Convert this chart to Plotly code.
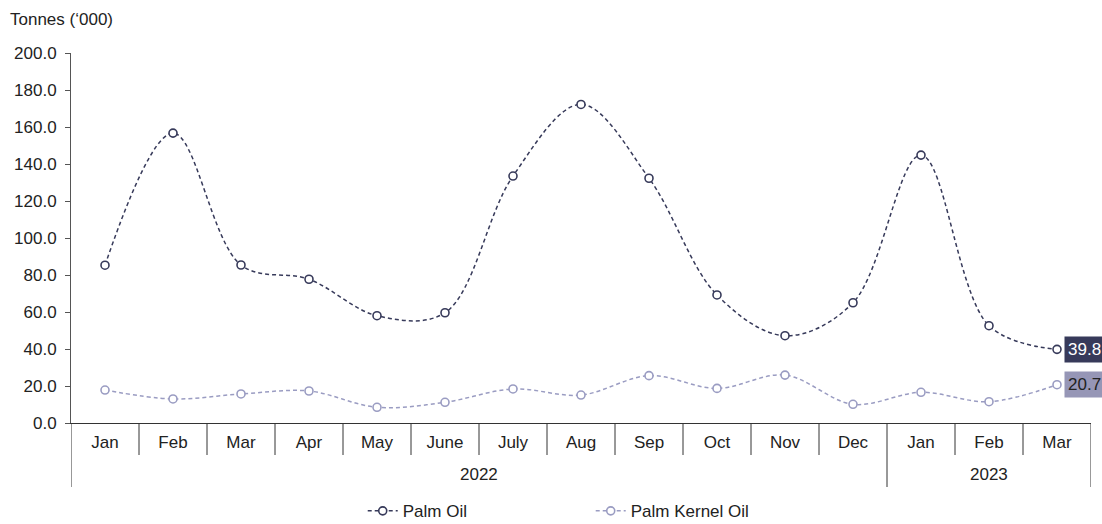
import plotly.graph_objects as go

# Monthly export volumes, tonnes ('000)
years = ["2022"] * 12 + ["2023"] * 3
months = ["Jan", "Feb", "Mar", "Apr", "May", "June", "July", "Aug", "Sep",
          "Oct", "Nov", "Dec", "Jan", "Feb", "Mar"]
palm_oil = [85.3, 156.7, 85.4, 77.7, 58.0, 59.6, 133.5, 172.2, 132.3,
            69.2, 47.2, 65.0, 144.8, 52.6, 39.8]
palm_kernel_oil = [17.8, 13.0, 15.7, 17.3, 8.5, 11.2, 18.4, 15.1, 25.6,
                   18.7, 25.9, 10.1, 16.6, 11.5, 20.7]

PO_COLOR = "#373a5a"
PKO_COLOR = "#9a9cc2"
FONT = "Liberation Sans, Arial, sans-serif"
TXT = "#222222"
AXIS = "#333333"
FS = 17

idx = list(range(len(months)))
PLOT_H = 370  # plot-area height in px, used to turn pixel offsets into paper units

fig = go.Figure()
fig.add_trace(go.Scatter(
    x=idx, y=palm_oil, name="Palm Oil", mode="lines+markers",
    line=dict(color=PO_COLOR, width=1.5, dash="4px,3px", shape="spline", smoothing=1.0),
    marker=dict(symbol="circle", size=8, color="white",
                line=dict(color=PO_COLOR, width=1.6)),
))
fig.add_trace(go.Scatter(
    x=idx, y=palm_kernel_oil, name="Palm Kernel Oil", mode="lines+markers",
    line=dict(color=PKO_COLOR, width=1.5, dash="4px,3px", shape="spline", smoothing=1.0),
    marker=dict(symbol="circle", size=8, color="white",
                line=dict(color=PKO_COLOR, width=1.6)),
))

# Category table under the x axis: month separators and year group borders
year_groups = []
for i, yr in enumerate(years):
    if not year_groups or year_groups[-1][0] != yr:
        year_groups.append([yr, i, i])
    else:
        year_groups[-1][2] = i

group_edges = {-0.5} | {g[2] + 0.5 for g in year_groups}
for b in [i - 0.5 for i in range(len(months) + 1)]:
    depth = 64 if b in group_edges else 32
    fig.add_shape(type="line", xref="x", yref="paper", x0=b, x1=b,
                  y0=0, y1=-depth / PLOT_H, line=dict(color=AXIS, width=1))

for yr, first, lastm in year_groups:
    fig.add_annotation(x=(first + lastm) / 2, y=0, xref="x", yref="paper",
                       yshift=-51, yanchor="middle", text=yr, showarrow=False,
                       font=dict(family=FONT, size=FS, color=TXT))

# Value tags on the latest month
last = idx[-1]
fig.add_annotation(x=last, y=palm_oil[-1], text=f"{palm_oil[-1]:.1f}",
                   xref="x", yref="y", showarrow=False, xanchor="left",
                   xshift=7, bgcolor=PO_COLOR, borderpad=3,
                   font=dict(family=FONT, size=FS, color="white"))
fig.add_annotation(x=last, y=palm_kernel_oil[-1], text=f"{palm_kernel_oil[-1]:.1f}",
                   xref="x", yref="y", showarrow=False, xanchor="left",
                   xshift=7, bgcolor="#9696b6", borderpad=3,
                   font=dict(family=FONT, size=FS, color=TXT))

fig.add_annotation(text="Tonnes (‘000)", xref="paper", yref="paper",
                   x=-0.062, y=1.0, yshift=22, xanchor="left", yanchor="bottom",
                   showarrow=False, font=dict(family=FONT, size=FS, color=TXT))

fig.update_layout(
    width=1102, height=524,
    margin=dict(l=71, r=11, t=53, b=101, autoexpand=False),
    paper_bgcolor="white", plot_bgcolor="white",
    font=dict(family=FONT, size=FS, color=TXT),
    showlegend=True,
    legend=dict(orientation="h", xref="paper", x=0.286, xanchor="left",
                yref="paper", y=-0.19, yanchor="top",
                entrywidth=183, font=dict(family=FONT, size=FS, color=TXT)),
)
fig.update_xaxes(
    range=[-0.5, len(months) - 0.5], automargin=False,
    tickmode="array", tickvals=idx, ticktext=months,
    showgrid=False, zeroline=False, showline=True, linecolor=AXIS, linewidth=1,
    ticks="", ticklabelstandoff=4,
    tickfont=dict(family=FONT, size=FS, color=TXT),
)
fig.update_yaxes(
    range=[0, 200], dtick=20, tickformat=".1f", showgrid=False, automargin=False,
    showline=True, linecolor="#555555", linewidth=1,
    ticks="outside", ticklen=5, tickcolor="#555555", zeroline=False,
    ticklabelstandoff=5,
    tickfont=dict(family=FONT, size=FS, color=TXT),
)

fig.write_html("out.html")
